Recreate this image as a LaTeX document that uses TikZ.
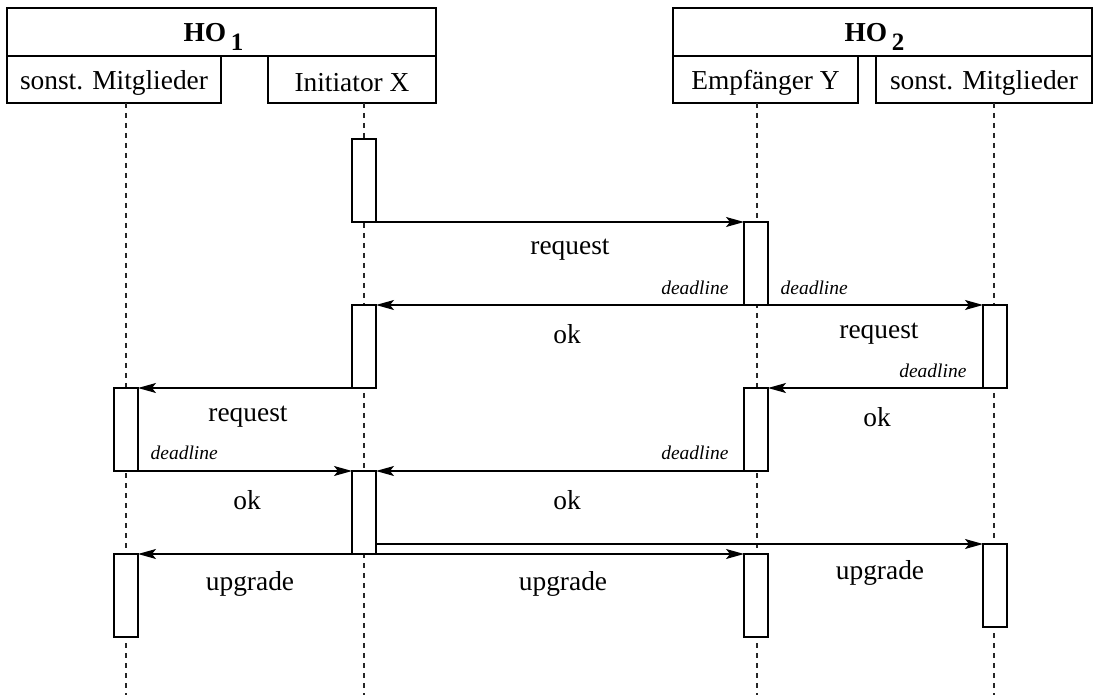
\documentclass[tikz,border=0pt]{standalone}
\usepackage{fontspec}
\setmainfont{Liberation Serif}
\usetikzlibrary{arrows.meta}

\tikzset{
  lifeline/.style={dash pattern=on 2.5pt off 2.5pt, line width=.55pt, black!85},
  bar/.style={draw, fill=white, anchor=north, inner sep=0pt, outer sep=0pt,
    minimum width=12pt, minimum height=41.5pt},
  msg/.style={-{Stealth[length=9pt,width=5pt,inset=2pt]}},
  dl/.style={font=\fontsize{9.75}{11}\selectfont\itshape, inner sep=0pt},
}

\begin{document}
\begin{tikzpicture}[x=.5pt, y=-.5pt, line width=.6pt, font=\fontsize{13.7}{16}\selectfont]
\useasboundingbox (0,0) rectangle (1093,695);

% groups and members
\draw (7,8) rectangle (436,56) node[pos=.5, xshift=-4pt, yshift=-2.5pt] (ho1) {\textbf{HO\,\raisebox{-.7ex}{\fontsize{12.5}{14}\selectfont 1}}};
\draw (7,56) rectangle (221,103) node[pos=.5, yshift=-1.5pt] (mit1) {sonst. Mitglieder};
\draw (268,56) rectangle (436,103) node[pos=.5, yshift=-1.5pt] (ini) {Initiator X};
\draw (673,8) rectangle (1092,56) node[pos=.5, xshift=-4pt, yshift=-2.5pt] (ho2) {\textbf{HO\,\raisebox{-.7ex}{\fontsize{12.5}{14}\selectfont 2}}};
\draw (673,56) rectangle (858,103) node[pos=.5, yshift=-1.5pt] (emp) {Empfänger Y};
\draw (876,56) rectangle (1092,103) node[pos=.5, yshift=-1.5pt] (mit2) {sonst. Mitglieder};

% lifelines
\foreach \x in {126,364,757,994}
  \draw[lifeline] (\x,103) -- (\x,695);

% activation bars
\node[bar] (ini1) at (364,139) {};
\node[bar] (emp1) at (756,222) {};
\node[bar] (ini2) at (364,305) {};
\node[bar] (rgt1) at (995,305) {};
\node[bar] (lft1) at (126,388) {};
\node[bar] (emp2) at (756,388) {};
\node[bar] (ini3) at (364,471) {};
\node[bar] (lft2) at (126,554) {};
\node[bar] (emp3) at (756,554) {};
\node[bar] (rgt2) at (995,544) {};

% messages
\draw[msg] (ini1.south east) -- (emp1.north west);
\draw[msg] (emp1.south west) -- (ini2.north east);
\draw[msg] (emp1.south east) -- (rgt1.north west);
\draw[msg] (rgt1.south west) -- (emp2.north east);
\draw[msg] (ini2.south west) -- (lft1.north east);
\draw[msg] (lft1.south east) -- (ini3.north west);
\draw[msg] (emp2.south west) -- (ini3.north east);
\draw[msg] (ini3.south west) -- (lft2.north east);
\draw[msg] (ini3.south east) -- (emp3.north west);
\draw[msg] (ini3.east |- rgt2.north) -- (rgt2.north west);

% message labels
\node (req1) at (570,250) {request};
\node[dl, anchor=east] (dl1) at (729,288) {deadline};
\node[dl, anchor=west] (dl2) at (780,288) {deadline};
\node (ok1) at (567,334) {ok};
\node (req2) at (879,334) {request};
\node[dl, anchor=east] (dl3) at (967,371) {deadline};
\node (req3) at (248,417) {request};
\node (ok2) at (877,417) {ok};
\node[dl, anchor=west] (dl4) at (150,453) {deadline};
\node[dl, anchor=east] (dl5) at (729,453) {deadline};
\node (ok3) at (247,500) {ok};
\node (ok4) at (567,500) {ok};
\node (upg1) at (250,584) {upgrade};
\node (upg2) at (563,584) {upgrade};
\node (upg3) at (880,573) {upgrade};
\end{tikzpicture}
\end{document}
